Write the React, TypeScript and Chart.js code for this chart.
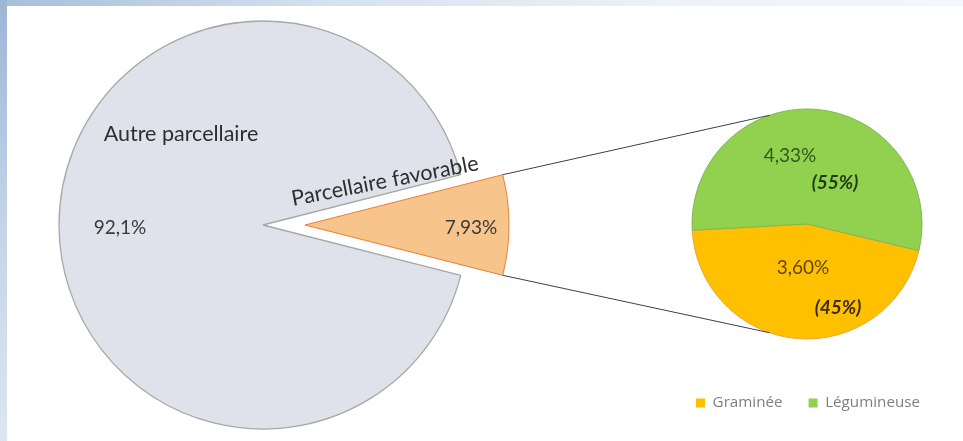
import React, { useEffect, useRef } from "react";
import { Chart, registerables } from "chart.js";

Chart.register(...registerables);

// ---- data ----
const mainCategories = ["Autre parcellaire", "Parcellaire favorable"];
const mainValues = [92.07, 7.93];
const mainValueLabels = ["92,1%", "7,93%"];

const subCategories = ["Graminée", "Légumineuse"];
const subValues = [3.6, 4.33];
const subValueLabels = ["3,60%", "4,33%"];
const subShareLabels = ["(45%)", "(55%)"];

// ---- style ----
const W = 963;
const H = 441;
const FONT = "Lato, 'Noto Sans', sans-serif";
const EXPLODE = 42;
const DEG = Math.PI / 180;

export default function App() {
  const bigRef = useRef<HTMLCanvasElement | null>(null);
  const smallRef = useRef<HTMLCanvasElement | null>(null);

  useEffect(() => {
    if (!bigRef.current || !smallRef.current) return;
    const mainTotal = mainValues.reduce((a, b) => a + b, 0);

    const explodePlugin = {
      id: "explodeSlice",
      afterDatasetsUpdate(chart: any) {
        const arc: any = chart.getDatasetMeta(0).data[1];
        if (!arc) return;
        const mid = (arc.startAngle + arc.endAngle) / 2;
        arc.x += Math.cos(mid) * EXPLODE;
        arc.y += Math.sin(mid) * EXPLODE;
      },
    };

    const mainLabels = {
      id: "mainLabels",
      afterDatasetsDraw(chart: any) {
        const ctx = chart.ctx as CanvasRenderingContext2D;
        const meta = chart.getDatasetMeta(0);
        const gray: any = meta.data[0];
        const orange: any = meta.data[1];
        ctx.save();
        ctx.textAlign = "center";
        ctx.textBaseline = "middle";
        ctx.font = `21.5px ${FONT}`;
        ctx.fillStyle = "#2E2E2E";
        ctx.fillText(mainCategories[0], gray.x - 82, gray.y - 91);
        ctx.font = `19px ${FONT}`;
        ctx.fillStyle = "#3A3A3A";
        ctx.fillText(mainValueLabels[0], gray.x - 143, gray.y + 3);
        ctx.fillText(mainValueLabels[1], orange.x + 166, orange.y + 3);
        ctx.translate(gray.x + 30, gray.y - 19);
        ctx.rotate(-11 * DEG);
        ctx.textAlign = "left";
        ctx.textBaseline = "alphabetic";
        ctx.font = `21.5px ${FONT}`;
        ctx.fillStyle = "#2E2E2E";
        ctx.fillText(mainCategories[1], 0, 0);
        ctx.restore();
      },
    };

    const bigChart = new Chart(bigRef.current, {
      type: "pie",
      data: {
        labels: mainCategories,
        datasets: [
          {
            data: mainValues,
            backgroundColor: ["#DFE2EA", "#F7C48C"],
            borderColor: ["#A8A8A8", "#ED7D31"],
            borderWidth: [1.3, 1],
          },
        ],
      },
      options: {
        responsive: false,
        animation: false,
        events: [],
        rotation: 90 + (mainValues[1] / mainTotal) * 180,
        radius: 204,
        layout: { padding: { left: 0, right: 437, top: 9, bottom: 0 } },
        plugins: { legend: { display: false }, tooltip: { enabled: false } },
      } as any,
      plugins: [explodePlugin, mainLabels],
    });

    const subLabels = {
      id: "subLabels",
      afterDraw(chart: any) {
        const ctx = chart.ctx as CanvasRenderingContext2D;
        const meta = chart.getDatasetMeta(0);
        const a: any = meta.data[0];
        const cx = a.x;
        const cy = a.y;
        const r = a.outerRadius;
        ctx.save();
        ctx.textAlign = "center";
        ctx.textBaseline = "middle";
        ctx.font = `19px ${FONT}`;
        ctx.fillStyle = "#335A1C";
        ctx.fillText(subValueLabels[1], cx - 17, cy - 68);
        ctx.fillStyle = "#654604";
        ctx.fillText(subValueLabels[0], cx - 4, cy + 44);
        ctx.font = `italic bold 19px ${FONT}`;
        ctx.fillStyle = "#1F3D10";
        ctx.fillText(subShareLabels[1], cx + 28, cy - 41);
        ctx.fillStyle = "#3D2D05";
        ctx.fillText(subShareLabels[0], cx + 31, cy + 84);

        // connector lines
        const o: any = bigChart.getDatasetMeta(0).data[1];
        if (o) {
          const R = o.outerRadius;
          const p1 = [o.x + R * Math.cos(o.startAngle), o.y + R * Math.sin(o.startAngle)];
          const p2 = [o.x + R * Math.cos(o.endAngle), o.y + R * Math.sin(o.endAngle)];
          const q1 = [cx + r * Math.cos(-109 * DEG), cy + r * Math.sin(-109 * DEG)];
          const q2 = [cx + r * Math.cos(109 * DEG), cy + r * Math.sin(109 * DEG)];
          ctx.strokeStyle = "#404040";
          ctx.lineWidth = 1;
          ctx.beginPath();
          ctx.moveTo(p1[0], p1[1]);
          ctx.lineTo(q1[0], q1[1]);
          ctx.moveTo(p2[0], p2[1]);
          ctx.lineTo(q2[0], q2[1]);
          ctx.stroke();
        }
        ctx.restore();
      },
    };

    const baseGen =
      (Chart as any).overrides?.doughnut?.plugins?.legend?.labels?.generateLabels ||
      (Chart as any).overrides?.pie?.plugins?.legend?.labels?.generateLabels;

    const smallChart = new Chart(smallRef.current, {
      type: "pie",
      data: {
        labels: subCategories,
        datasets: [
          {
            data: subValues,
            backgroundColor: ["#FFC000", "#92D050"],
            borderColor: ["#EBA43A", "#80B64A"],
            borderWidth: 1,
          },
        ],
      },
      options: {
        responsive: false,
        animation: false,
        events: [],
        rotation: 103.4,
        radius: 115,
        layout: { padding: { left: 668, right: 17, top: 78.6, bottom: 20.4 } },
        plugins: {
          tooltip: { enabled: false },
          legend: {
            display: true,
            position: "bottom",
            align: "end",
            labels: {
              boxWidth: 9,
              boxHeight: 9,
              padding: 26,
              color: "#7F7F7F",
              font: { family: "'Open Sans', sans-serif", size: 15.2 },
              generateLabels: (chart: any) => {
                const items = baseGen ? baseGen(chart) : [];
                return items.map((it: any) => ({ ...it, strokeStyle: it.fillStyle, lineWidth: 0 }));
              },
            },
          },
        },
      } as any,
      plugins: [subLabels],
    });

    return () => {
      smallChart.destroy();
      bigChart.destroy();
    };
  }, []);

  return (
    <div
      style={{
        position: "absolute",
        left: 0,
        top: 0,
        width: W,
        height: H,
        background: "#FFFFFF",
        overflow: "hidden",
      }}
    >
      <div
        style={{
          position: "absolute",
          left: 0,
          top: 0,
          width: W,
          height: 6,
          background: "linear-gradient(to right, #A6BFDB, #D6E2F0 35%, #EEF2F8 70%, #F3F6FA)",
        }}
      />
      <div
        style={{
          position: "absolute",
          left: 0,
          top: 0,
          width: 7,
          height: H,
          background: "linear-gradient(to bottom, #9CB6D5, #C3D4E8 50%, #DCE6F1)",
        }}
      />
      <canvas ref={bigRef} width={W} height={H} style={{ position: "absolute", left: 0, top: 0 }} />
      <canvas ref={smallRef} width={W} height={H} style={{ position: "absolute", left: 0, top: 0 }} />
    </div>
  );
}
